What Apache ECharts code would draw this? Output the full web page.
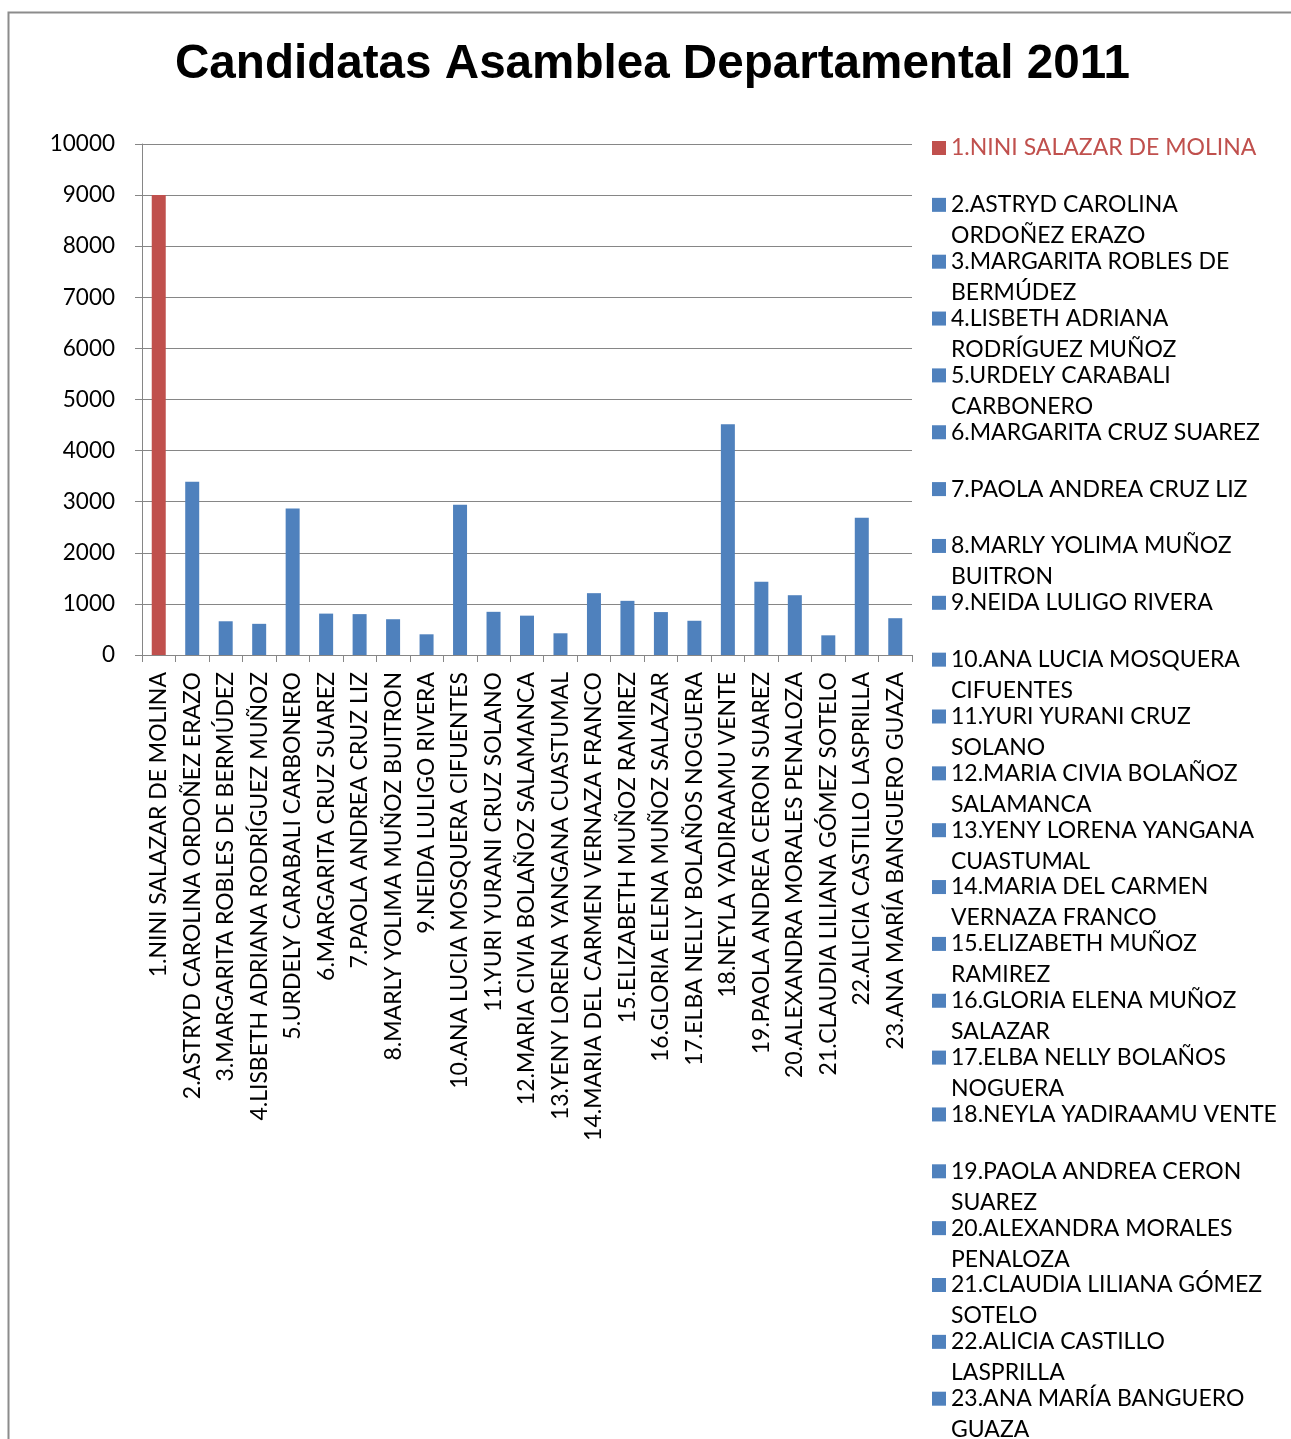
<!DOCTYPE html>
<html>
<head>
<meta charset="utf-8">
<script src="https://cdn.jsdelivr.net/npm/echarts@6/dist/echarts.min.js"></script>
<style>
html,body{margin:0;padding:0;background:#fff;}
#chart{width:1291px;height:1439px;}
</style>
</head>
<body>
<div id="chart"></div>
<script>
const titleText = 'Candidatas Asamblea Departamental 2011';
const categories = [
  '1.NINI SALAZAR DE MOLINA',
  '2.ASTRYD CAROLINA ORDOÑEZ ERAZO',
  '3.MARGARITA ROBLES DE BERMÚDEZ',
  '4.LISBETH ADRIANA RODRÍGUEZ MUÑOZ',
  '5.URDELY CARABALI CARBONERO',
  '6.MARGARITA CRUZ SUAREZ',
  '7.PAOLA ANDREA CRUZ LIZ',
  '8.MARLY YOLIMA MUÑOZ BUITRON',
  '9.NEIDA LULIGO RIVERA',
  '10.ANA LUCIA MOSQUERA CIFUENTES',
  '11.YURI YURANI CRUZ SOLANO',
  '12.MARIA CIVIA BOLAÑOZ SALAMANCA',
  '13.YENY LORENA YANGANA CUASTUMAL',
  '14.MARIA DEL CARMEN VERNAZA FRANCO',
  '15.ELIZABETH MUÑOZ RAMIREZ',
  '16.GLORIA ELENA MUÑOZ SALAZAR',
  '17.ELBA NELLY BOLAÑOS NOGUERA',
  '18.NEYLA YADIRAAMU VENTE',
  '19.PAOLA ANDREA CERON SUAREZ',
  '20.ALEXANDRA MORALES PENALOZA',
  '21.CLAUDIA LILIANA GÓMEZ SOTELO',
  '22.ALICIA CASTILLO LASPRILLA',
  '23.ANA MARÍA BANGUERO GUAZA'
];
const legendLabels = [
  '1.NINI SALAZAR DE MOLINA',
  '2.ASTRYD CAROLINA\nORDOÑEZ ERAZO',
  '3.MARGARITA ROBLES DE\nBERMÚDEZ',
  '4.LISBETH ADRIANA\nRODRÍGUEZ MUÑOZ',
  '5.URDELY CARABALI\nCARBONERO',
  '6.MARGARITA CRUZ SUAREZ',
  '7.PAOLA ANDREA CRUZ LIZ',
  '8.MARLY YOLIMA MUÑOZ\nBUITRON',
  '9.NEIDA LULIGO RIVERA',
  '10.ANA LUCIA MOSQUERA\nCIFUENTES',
  '11.YURI YURANI CRUZ\nSOLANO',
  '12.MARIA CIVIA BOLAÑOZ\nSALAMANCA',
  '13.YENY LORENA YANGANA\nCUASTUMAL',
  '14.MARIA DEL CARMEN\nVERNAZA FRANCO',
  '15.ELIZABETH MUÑOZ\nRAMIREZ',
  '16.GLORIA ELENA MUÑOZ\nSALAZAR',
  '17.ELBA NELLY BOLAÑOS\nNOGUERA',
  '18.NEYLA YADIRAAMU VENTE',
  '19.PAOLA ANDREA CERON\nSUAREZ',
  '20.ALEXANDRA MORALES\nPENALOZA',
  '21.CLAUDIA LILIANA GÓMEZ\nSOTELO',
  '22.ALICIA CASTILLO\nLASPRILLA',
  '23.ANA MARÍA BANGUERO\nGUAZA'
];
const votes = [9000, 3390, 660, 610, 2865, 810, 800, 700, 405, 2940, 845, 770, 425, 1210, 1060, 840, 670, 4515, 1435, 1170, 385, 2685, 720];
const yTicks = {min: 0, max: 10000, interval: 1000};

const RED = '#c0504d', BLUE = '#4f81bd', GRID = '#868686';

const series = categories.map(function (name, i) {
  return {
    type: 'bar',
    name: name,
    stack: 'all',
    barWidth: 14,
    itemStyle: {color: i === 0 ? RED : BLUE},
    data: categories.map(function (c, j) { return j === i ? votes[i] : '-'; })
  };
});

const chart = echarts.init(document.getElementById('chart'), null, {renderer: 'canvas'});
chart.setOption({
  backgroundColor: '#fff',
  animation: false,
  graphic: [{
    type: 'rect', silent: true, z: -1,
    shape: {x: 8.5, y: 12.5, width: 1400, height: 1500},
    style: {fill: 'none', stroke: '#8c8c8c', lineWidth: 2}
  }],
  title: {
    text: titleText,
    left: 175,
    top: 41,
    padding: 0,
    textStyle: {fontFamily: 'Liberation Sans', fontWeight: 'bold', fontSize: 47.6, color: '#000'}
  },
  grid: {left: 142, right: 379, top: 144, bottom: 784, containLabel: false},
  legend: {
    orient: 'vertical',
    left: 932,
    top: 101.5,
    height: 3000,
    padding: 0,
    itemGap: -36.15,
    itemWidth: 14,
    itemHeight: 14,
    icon: 'rect',
    selectedMode: false,
    data: categories.map(function (c, i) {
      return {name: c, textStyle: {color: i === 0 ? RED : '#000'}};
    }),
    formatter: function (name) {
      const lines = legendLabels[categories.indexOf(name)].split('\n');
      return ' \n' + lines[0] + '\n' + (lines[1] || ' ');
    },
    textStyle: {fontFamily: 'Lato', fontSize: 23, lineHeight: 31, color: '#000'}
  },
  xAxis: {
    type: 'category',
    data: categories,
    axisLine: {lineStyle: {color: GRID, width: 1}},
    axisTick: {show: true, length: 7, lineStyle: {color: GRID}},
    axisLabel: {interval: 0, rotate: 90, margin: 17, color: '#000', fontFamily: 'Lato', fontSize: 23}
  },
  yAxis: {
    type: 'value',
    min: yTicks.min, max: yTicks.max, interval: yTicks.interval,
    axisLine: {show: true, lineStyle: {color: GRID, width: 1}},
    axisTick: {show: true, length: 7, lineStyle: {color: GRID}},
    splitLine: {lineStyle: {color: GRID, width: 1}},
    axisLabel: {
      margin: 27, color: '#000', fontFamily: 'Lato', fontSize: 22.5,
      formatter: function (v) { return String(v); }
    }
  },
  series: series
});
</script>
</body>
</html>
